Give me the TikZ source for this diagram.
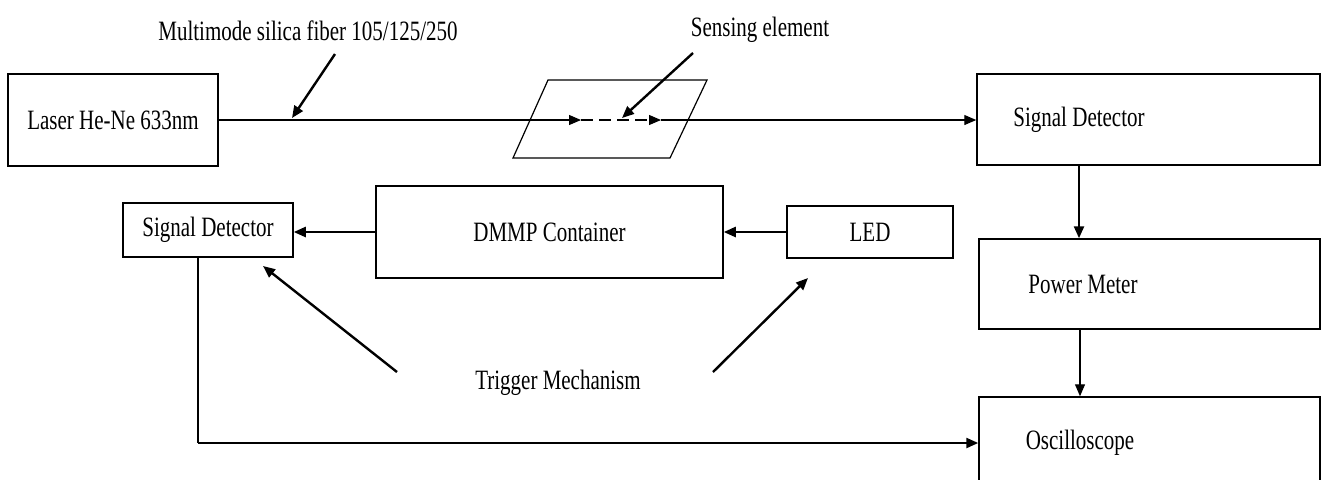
\documentclass[tikz,border=0pt]{standalone}
\usepackage{fontspec}
\setmainfont{Liberation Serif}[FakeStretch=0.75]
\usetikzlibrary{arrows.meta}
\begin{document}
\begin{tikzpicture}[x=0.5pt,y=-0.5pt,
  lbl/.style={inner sep=0pt, font=\fontsize{14}{16}\selectfont},
  box/.style={draw, line width=0.75pt, inner sep=0pt, font=\fontsize{14}{16}\selectfont},
  thinline/.style={line width=0.6pt},
  thickline/.style={line width=1.2pt},
  tip/.style={-{Triangle[length=6pt,width=5pt]}}
]
\useasboundingbox (0,0) rectangle (1321,479);
% boxes
\node[box, minimum width=105pt, minimum height=46pt] (laser) at (113,120) {Laser He-Ne 633nm};
\node[box, minimum width=85pt, minimum height=27pt] (sdl) at (208,230) {Signal Detector};
\node[box, minimum width=173.5pt, minimum height=46pt] (dmmp) at (549.5,232) {DMMP Container};
\node[box, minimum width=83pt, minimum height=26pt] (led) at (870,232) {LED};
\node[box, minimum width=171.5pt, minimum height=45.5pt] (sdr) at (1148.5,119.5) {};
\node[box, minimum width=170.5pt, minimum height=45pt] (pm) at (1149.5,284) {};
\node[box, minimum width=170.5pt, minimum height=51.5pt] (osc) at (1149.5,448.5) {};
\node[lbl] (sdrt) at (1079,120) {Signal Detector};
\node[lbl] (pmt) at (1083,284) {Power Meter};
\node[lbl] (osct) at (1080,443) {Oscilloscope};
% labels
\node[lbl] (fib) at (308,31) {Multimode silica fiber 105/125/250};
\node[lbl] (sens) at (760,30) {Sensing element};
\node[lbl] (trig) at (558,383) {Trigger Mechanism};
% sensing element parallelogram
\draw[thinline] (548,80) -- (707,80) -- (670,158) -- (513,158) -- cycle;
% fiber path
\coordinate (f1) at (581,120);
\coordinate (f2) at (661,120);
\draw[thinline, tip] (laser.east |- f1) -- (f1);
\draw[thinline, dashed, dash pattern=on 6pt off 3pt, tip] (f1) -- (f2);
\draw[thinline, tip] (f2) -- (sdr.west |- f2);
% label arrows
\coordinate (fa1) at (335,54);
\coordinate (fa2) at (292,118);
\draw[thickline, tip] (fa1) -- (fa2);
\coordinate (sa1) at (693,53);
\coordinate (sa2) at (622,118);
\draw[thickline, tip] (sa1) -- (sa2);
% middle row
\draw[thickline, tip] (led.west) -- (dmmp.east |- led.west);
\draw[thickline, tip] (dmmp.west) -- (sdl.east |- dmmp.west);
% right column
\coordinate (rc) at (1079,0);
\draw[thickline, tip] (sdr.south -| rc) -- (pm.north -| rc);
\coordinate (rc2) at (1080,0);
\draw[thinline, tip] (pm.south -| rc2) -- (osc.north -| rc2);
% bottom return line
\coordinate (b1) at (198,257);
\coordinate (b2) at (198,443);
\draw[thinline] (sdl.south -| b1) -- (b2);
\draw[thickline, tip] (b2) -- (osc.west |- b2);
% trigger arrows
\coordinate (t1) at (397,372);
\coordinate (t1e) at (263,266);
\draw[thickline, tip] (t1) -- (t1e);
\coordinate (t2) at (713,372);
\coordinate (t2e) at (808,278);
\draw[thickline, tip] (t2) -- (t2e);
\end{tikzpicture}
\end{document}
